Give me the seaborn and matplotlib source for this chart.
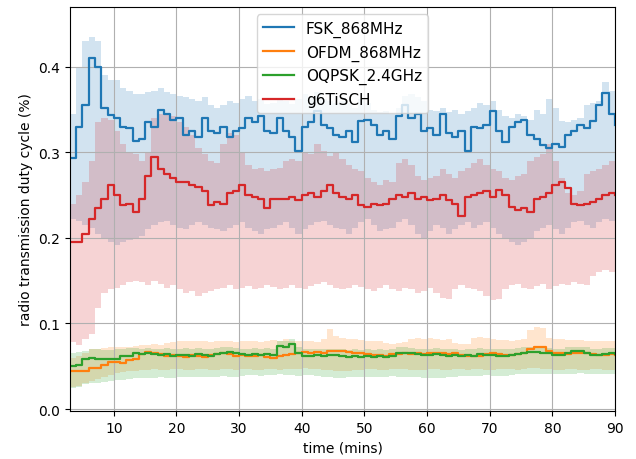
import numpy as np
import pandas as pd
import seaborn as sns
import matplotlib.pyplot as plt

# time axis, one sample per minute
minutes = list(range(3, 91))

# mean duty cycle (x 1000)
fsk_mean = [293, 330, 355, 410, 400, 352, 343, 340, 330, 328, 313, 316, 335, 330, 350, 345, 338, 340, 320, 325, 318, 340, 325,
            322, 330, 318, 325, 328, 340, 335, 342, 325, 322, 340, 325, 318, 302, 330, 335, 348, 332, 328, 320,
            318, 325, 312, 336, 338, 332, 320, 325, 316, 342, 355, 340, 345, 325, 328, 320, 345, 322, 318, 325, 302, 330,
            328, 332, 348, 325, 312, 330, 335, 338, 320, 315, 308, 305, 310, 306, 320, 325, 332, 328, 336, 355, 369, 345, 332]
fsk_hi = [345, 400, 430, 435, 430, 390, 385, 385, 375, 372, 368, 368, 370, 372, 375, 370, 368, 366, 365, 362, 360, 365, 355,
          352, 355, 360, 358, 362, 366, 360, 362, 356, 358, 362, 360, 356, 362, 368, 365, 370, 362, 360, 358,
          360, 358, 352, 362, 358, 350, 347, 348, 345, 352, 366, 368, 365, 360, 350, 348, 352, 347, 350, 345, 348, 352,
          358, 355, 360, 350, 342, 340, 345, 342, 338, 350, 345, 362, 352, 336, 335, 338, 340, 355, 358, 360, 382, 372, 368]
fsk_lo = [222, 220, 215, 212, 205, 200, 195, 192, 195, 198, 200, 202, 210, 215, 218, 220, 215, 212, 210, 215, 218, 215, 212,
          210, 208, 212, 215, 218, 212, 208, 205, 210, 212, 215, 218, 212, 205, 210, 215, 218, 220, 215, 212,
          210, 205, 212, 218, 222, 215, 208, 210, 212, 218, 222, 215, 205, 200, 208, 215, 212, 205, 210, 215, 218, 212,
          215, 218, 212, 205, 200, 195, 192, 195, 200, 208, 212, 215, 210, 205, 212, 218, 220, 215, 212, 218, 222, 220, 215]

tsch_mean = [195, 195, 205, 222, 235, 246, 262, 250, 238, 240, 230, 245, 272, 295, 280, 275, 270, 265, 265, 262, 260, 255, 238,
             242, 240, 252, 255, 262, 250, 248, 245, 235, 245, 246, 245, 248, 244, 250, 252, 248, 255, 262, 252,
             248, 245, 250, 238, 236, 240, 238, 240, 245, 250, 248, 252, 245, 248, 244, 246, 250, 244, 240, 225, 248, 250,
             252, 255, 248, 256, 250, 236, 232, 235, 230, 245, 248, 252, 262, 265, 258, 240, 238, 240, 242, 245, 250, 252, 250]
tsch_hi = [240, 250, 265, 290, 335, 340, 338, 325, 310, 300, 298, 290, 300, 340, 345, 343, 342, 335, 330, 320, 305, 298, 290,
           288, 310, 322, 320, 300, 285, 280, 282, 278, 280, 282, 290, 292, 290, 300, 298, 310, 302, 296, 300,
           292, 285, 280, 278, 270, 265, 262, 268, 265, 288, 292, 285, 272, 268, 270, 272, 280, 275, 270, 278, 282, 288,
           292, 285, 280, 278, 270, 268, 272, 275, 290, 295, 298, 310, 290, 270, 252, 250, 255, 275, 278, 280, 285, 290, 290]
tsch_lo = [78, 75, 82, 88, 118, 135, 140, 142, 145, 148, 150, 148, 145, 150, 146, 142, 145, 140, 135, 138, 132, 136, 138,
           140, 142, 145, 140, 142, 144, 140, 142, 145, 143, 140, 142, 145, 142, 140, 144, 146, 148, 145, 142,
           140, 142, 145, 143, 140, 138, 142, 145, 140, 138, 142, 140, 135, 138, 142, 136, 130, 128, 140, 145, 142, 140,
           138, 132, 127, 128, 140, 145, 146, 142, 140, 144, 146, 140, 144, 146, 145, 148, 146, 145, 155, 160, 162, 160, 158]

ofdm_mean = [44, 44, 45, 48, 48, 52, 55, 55, 54, 57, 58, 64, 67, 66, 64, 62, 63, 62, 61, 63, 62, 61, 63,
             64, 66, 64, 62, 63, 62, 62, 63, 61, 60, 62, 63, 64, 65, 67, 66, 67, 66, 68, 68,
             68, 67, 66, 65, 64, 63, 63, 62, 64, 64, 65, 64, 65, 64, 65, 66, 65, 64, 66, 63, 62, 62,
             62, 64, 65, 64, 63, 63, 64, 66, 70, 72, 72, 68, 65, 65, 64, 66, 66, 66, 64, 63, 63, 64, 63]
ofdm_hi = [60, 62, 65, 70, 70, 71, 72, 72, 72, 73, 74, 75, 75, 76, 75, 77, 78, 79, 79, 80, 80, 79, 78,
           79, 80, 79, 78, 79, 80, 79, 78, 80, 81, 80, 82, 80, 79, 79, 80, 78, 82, 94, 85,
           83, 82, 82, 81, 80, 79, 79, 77, 76, 77, 78, 82, 83, 82, 83, 82, 81, 82, 77, 76, 76, 83,
           84, 83, 82, 81, 81, 80, 81, 82, 92, 96, 95, 83, 82, 82, 81, 81, 81, 80, 80, 80, 80, 80, 79]
ofdm_lo = [26, 27, 30, 33, 35, 38, 40, 42, 43, 45, 45, 46, 46, 47, 46, 46, 47, 47, 46, 46, 47, 47, 46,
           46, 47, 47, 46, 47, 47, 46, 46, 47, 47, 46, 47, 47, 47, 48, 47, 47, 46, 46, 45,
           45, 45, 46, 46, 47, 47, 46, 46, 47, 47, 47, 46, 46, 46, 47, 47, 46, 46, 47, 47, 46, 47,
           47, 46, 46, 47, 47, 47, 46, 47, 48, 48, 47, 47, 46, 46, 47, 47, 46, 46, 47, 47, 46, 46, 46]

oqpsk_mean = [50, 52, 58, 60, 59, 58, 58, 59, 62, 62, 65, 64, 65, 64, 63, 64, 62, 63, 63, 62, 64, 63, 62,
              64, 66, 67, 65, 64, 63, 64, 63, 64, 63, 74, 73, 76, 65, 62, 62, 63, 62, 63, 63,
              62, 61, 62, 61, 62, 61, 62, 61, 62, 65, 66, 65, 64, 63, 63, 64, 63, 62, 63, 62, 63, 62,
              64, 63, 63, 62, 62, 63, 64, 65, 67, 67, 66, 65, 63, 63, 66, 68, 68, 66, 63, 63, 64, 65, 64]
oqpsk_hi = [66, 67, 68, 70, 70, 69, 69, 70, 70, 71, 71, 70, 71, 70, 70, 71, 70, 70, 71, 70, 71, 70, 70,
            71, 72, 72, 71, 70, 70, 71, 70, 71, 70, 80, 80, 82, 72, 70, 70, 70, 70, 70, 70,
            70, 69, 70, 69, 70, 69, 70, 69, 70, 72, 72, 71, 70, 70, 70, 71, 70, 70, 70, 69, 70, 70,
            71, 70, 70, 70, 70, 70, 71, 72, 73, 73, 72, 71, 70, 70, 72, 73, 73, 72, 70, 70, 71, 71, 71]
oqpsk_lo = [24, 26, 29, 30, 30, 31, 33, 34, 34, 35, 36, 36, 36, 36, 37, 36, 36, 37, 38, 38, 37, 38, 38,
            38, 39, 38, 38, 39, 40, 40, 39, 40, 40, 41, 40, 40, 39, 40, 40, 39, 38, 37, 36,
            36, 37, 37, 37, 38, 38, 38, 38, 39, 38, 37, 38, 37, 36, 36, 36, 36, 37, 38, 39, 39, 39,
            39, 40, 39, 39, 39, 40, 41, 41, 41, 41, 41, 41, 41, 41, 41, 41, 42, 41, 41, 41, 41, 41, 41]

series = {
    "FSK_868MHz": (fsk_mean, fsk_lo, fsk_hi),
    "OFDM_868MHz": (ofdm_mean, ofdm_lo, ofdm_hi),
    "OQPSK_2.4GHz": (oqpsk_mean, oqpsk_lo, oqpsk_hi),
    "g6TiSCH": (tsch_mean, tsch_lo, tsch_hi),
}
colors = sns.color_palette("tab10")[:4]

rows = []
for name, (mean, lo, hi) in series.items():
    for t, m, l, h in zip(minutes, mean, lo, hi):
        rows.append({"time": t, "protocol": name, "duty": m / 1000,
                     "lo": l / 1000, "hi": h / 1000})
df = pd.DataFrame(rows)

fig, ax = plt.subplots(figsize=(6.36, 4.6), dpi=100)

# shaded min/max bands
for (name, grp), c in zip(df.groupby("protocol", sort=False), colors):
    ax.fill_between(grp["time"], grp["lo"], grp["hi"], step="post",
                    color=c, alpha=0.2, linewidth=0)

sns.lineplot(data=df, x="time", y="duty", hue="protocol", palette=colors,
             drawstyle="steps-post", linewidth=1.6, ax=ax, estimator=None)

ax.set_xlim(3, 90)
ax.set_ylim(-0.0025, 0.47)
ax.set_xticks(range(10, 91, 10))
ax.set_yticks(np.arange(0, 0.41, 0.1))
ax.grid(True, color="#b0b0b0", linewidth=0.8)
ax.set_xlabel("time (mins)")
ax.set_ylabel("radio transmission duty cycle (%)")
ax.legend(title=None, loc="upper center", fontsize=11)

fig.subplots_adjust(left=0.11, right=0.967, top=0.983, bottom=0.104)
fig.savefig("out.png", dpi=100)
